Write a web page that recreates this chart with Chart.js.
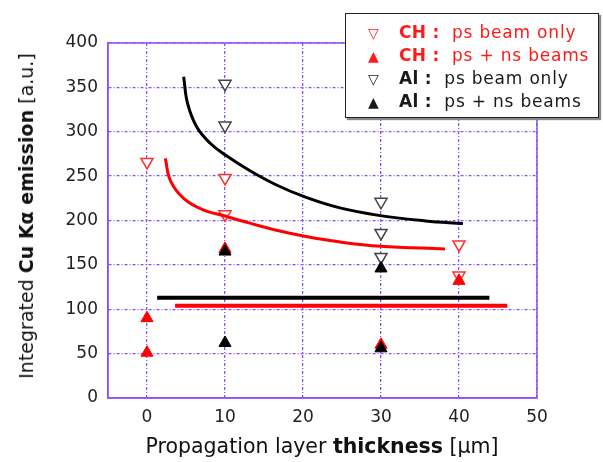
<!DOCTYPE html>
<html>
<head>
<meta charset="utf-8">
<script src="https://cdn.jsdelivr.net/npm/chart.js@4.4.1/dist/chart.umd.min.js"></script>
<style>
  body { margin: 0; background: #fff; }
  #wrap { position: relative; width: 603px; height: 462px; }
  #ytitle {
    position: absolute; left: 26px; top: 216px;
    transform: translate(-50%, -50%) rotate(-90deg);
    white-space: nowrap; font: 19px "DejaVu Sans", sans-serif; color: #111;
  }
  #xtitle {
    position: absolute; left: 322px; top: 446px;
    transform: translate(-50%, -50%);
    white-space: nowrap; font: 20.5px "DejaVu Sans", sans-serif; color: #111;
  }
  #legend {
    position: absolute; left: 345px; top: 13px; width: 254px; height: 105px;
    background: #fff; border: 1.5px solid #222; box-shadow: 2px 2px 1px #888;
    font: 17px "DejaVu Sans", sans-serif; letter-spacing: 0.8px; box-sizing: border-box;
    padding-top: 7px;
  }
  .row { height: 23px; line-height: 23px; white-space: nowrap; }
  .mk { display: inline-block; width: 31px; margin-left: 22px; font-size: 14px; letter-spacing: 0; }
  .mat { font-weight: bold; letter-spacing: 0.3px; }
</style>
</head>
<body>
<div id="wrap">
  <canvas id="grafico"></canvas>
  <div id="ytitle">Integrated <b>Cu K&alpha; emission</b> [a.u.]</div>
  <div id="xtitle">Propagation layer <b>thickness</b> [&micro;m]</div>
  <div id="legend"></div>
</div>
<script>
// ticks
const xTicks = [0, 10, 20, 30, 40, 50];

// CH: ps beam only (open, red)
const chPsX = [0, 10, 10, 40, 40];
const chPsY = [266, 248, 207, 173, 138];
// CH: ps + ns beams (filled, red)
const chPsNsX = [0, 0, 10, 30, 40];
const chPsNsY = [90, 51, 168, 60, 132];
// Al: ps beam only (open, black)
const alPsX = [10, 10, 30, 30, 30];
const alPsY = [354, 307, 221, 186, 159];
// Al: ps + ns beams (filled, black)
const alPsNsX = [10, 10, 30, 30];
const alPsNsY = [165, 62, 146, 56];

// fitted curves
const alFitX = [4.7, 5.2, 6.4, 8.1, 10, 13.2, 16.6, 20.4, 24.6, 29.9, 35.7, 40.5];
const alFitY = [362, 332, 305, 287, 274, 256, 240, 226, 214.5, 205.5, 199.5, 196.5];
const chFitX = [2.35, 3.0, 4.7, 7.2, 10, 13.2, 16.6, 20.4, 24.6, 29.9, 38.2];
const chFitY = [270, 245, 225, 212, 205, 197, 189, 182, 176, 171, 168];

// horizontal levels
const alLevelX = [1.3, 43.9];
const alLevelY = [113, 113];
const chLevelX = [3.6, 46.2];
const chLevelY = [104, 104];

const pts = (xs, ys) => xs.map((x, i) => ({ x: x, y: ys[i] }));

const legendItems = [
    { mat: "CH", txt: "ps beam only", color: "#ff1a1a", mk: "\u25BD" },
    { mat: "CH", txt: "ps + ns beams", color: "#ff1a1a", mk: "\u25B2" },
    { mat: "Al", txt: "ps beam only", color: "#1a1a1a", mk: "\u25BD" },
    { mat: "Al", txt: "ps + ns beams", color: "#1a1a1a", mk: "\u25B2" },
];
document.getElementById("legend").innerHTML = legendItems.map(it =>
    `<div class="row" style="color:${it.color}"><span class="mk">${it.mk}</span>` +
    `<span class="mat">${it.mat} :</span>&nbsp; ${it.txt}</div>`
).join("");

const purple = "rgba(140, 80, 250, 1)";

const openTri = (data, color) => ({
    data: data, showLine: false, pointStyle: "triangle", rotation: 180,
    pointRadius: 7, pointBorderWidth: 1.5, borderColor: color,
    pointBackgroundColor: "#fff", pointBorderColor: color,
});
const fullTri = (data, color) => ({
    data: data, showLine: false, pointStyle: "triangle",
    pointRadius: 7, pointBorderWidth: 1, borderColor: color,
    pointBackgroundColor: color, pointBorderColor: color,
});
const line = (data, color, width) => ({
    data: data, showLine: true, pointRadius: 0, borderColor: color,
    borderWidth: width, tension: 0.4,
});

const frame = {
    id: "frame",
    afterDraw(chart) {
        const a = chart.chartArea, c = chart.ctx;
        c.save();
        c.strokeStyle = purple;
        c.lineWidth = 1.5;
        c.strokeRect(a.left, a.top, a.right - a.left, a.bottom - a.top);
        c.restore();
    }
};

const ctx = document.getElementById("grafico").getContext("2d");
new Chart(ctx, {
    type: "scatter",
    data: {
        datasets: [
            line(pts(alFitX, alFitY), "#000", 3),
            line(pts(chFitX, chFitY), "#ff0000", 3),
            line(pts(alLevelX, alLevelY), "#000", 4),
            line(pts(chLevelX, chLevelY), "#ff0000", 4),
            fullTri(pts(alPsNsX, alPsNsY), "#000"),
            openTri(pts(alPsX, alPsY), "#444"),
            fullTri(pts(chPsNsX, chPsNsY), "#ff0000"),
            openTri(pts(chPsX, chPsY), "#ff3030"),
        ]
    },
    options: {
        responsive: true,
        maintainAspectRatio: false,
        animation: false,
        layout: { padding: { left: 10, top: 43, right: 66, bottom: 0 } },
        plugins: { legend: { display: false }, tooltip: { enabled: false } },
        scales: {
            x: {
                type: "linear", min: -5, max: 50,
                afterBuildTicks: (s) => { s.ticks = xTicks.map(v => ({ value: v })); },
                afterFit: (s) => { s.height = 64; },
                grid: { color: purple, lineWidth: 1.3, drawTicks: false },
                border: { color: purple, width: 1.5, dash: [3, 2, 1, 2] },
                ticks: { padding: 9, color: "#222", font: { family: "DejaVu Sans", size: 17 } },
            },
            y: {
                min: 0, max: 400,
                afterFit: (s) => { s.width = 98; },
                grid: { color: purple, lineWidth: 1.3, drawTicks: false },
                border: { color: purple, width: 1.5, dash: [3, 2, 1, 2] },
                ticks: { stepSize: 50, padding: 10, color: "#222", font: { family: "DejaVu Sans", size: 17 } },
            },
        },
    },
    plugins: [frame],
});
</script>
</body>
</html>
